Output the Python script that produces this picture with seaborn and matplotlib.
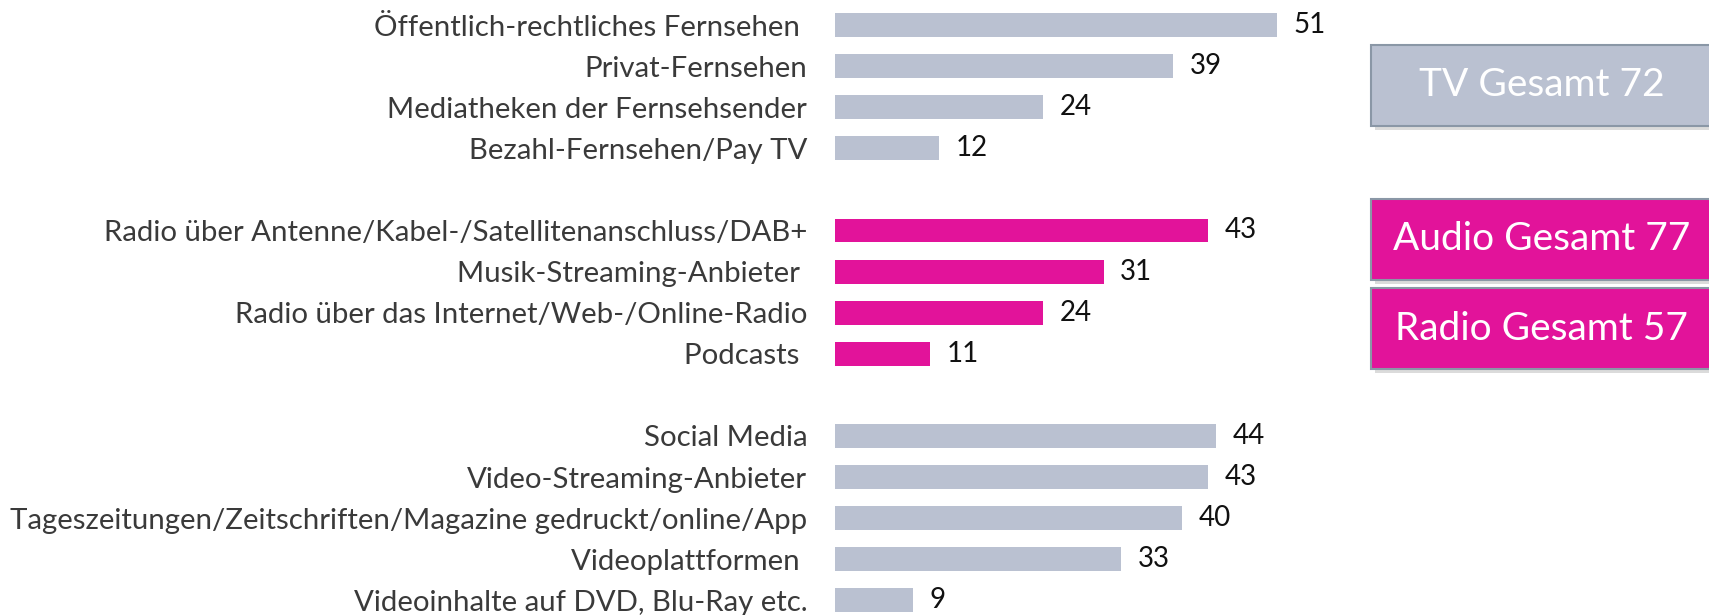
import pandas as pd
import matplotlib.pyplot as plt
import seaborn as sns
from matplotlib.patches import Rectangle

# Werte aus der Vorlage (in %)
tv_labels = ['Öffentlich-rechtliches Fernsehen ', 'Privat-Fernsehen',
             'Mediatheken der Fernsehsender', 'Bezahl-Fernsehen/Pay TV']
tv_values = [51, 39, 24, 12]

audio_labels = ['Radio über Antenne/Kabel-/Satellitenanschluss/DAB+', 'Musik-Streaming-Anbieter ',
                'Radio über das Internet/Web-/Online-Radio', 'Podcasts ']
audio_values = [43, 31, 24, 11]

other_labels = ['Social Media', 'Video-Streaming-Anbieter',
                'Tageszeitungen/Zeitschriften/Magazine gedruckt/online/App',
                'Videoplattformen ', 'Videoinhalte auf DVD, Blu-Ray etc.']
other_values = [44, 43, 40, 33, 9]

summary_labels = ['TV Gesamt 72', 'Audio Gesamt 77', 'Radio Gesamt 57']

grey = '#BAC1D1'
pink = '#E2139A'

# Zeilen mit je einer Leerzeile zwischen den Gruppen
rows = []
pos = 0
for grp, labels, values in [('tv', tv_labels, tv_values),
                            ('audio', audio_labels, audio_values),
                            ('other', other_labels, other_values)]:
    for lab, val in zip(labels, values):
        rows.append({'pos': pos, 'label': lab, 'value': val, 'group': grp})
        pos += 1
    pos += 1
df = pd.DataFrame(rows)

W, H = 1709, 615
fig = plt.figure(figsize=(W / 100, H / 100), dpi=100)
font = ['Lato', 'DejaVu Sans']
plt.rcParams['font.family'] = font

ax_left = 835
ax = fig.add_axes([ax_left / W, 0, (W - ax_left) / W, 1])
sns.barplot(data=df, x='value', y='pos', hue='group', orient='y', native_scale=True,
            palette={'tv': grey, 'audio': pink, 'other': grey},
            width=0.58, legend=False, ax=ax, saturation=1)

px_per_unit = 8.67
ax.set_xlim(0, (W - ax_left) / px_per_unit)
row_h = 41.1
ax.set_ylim((H - 25) / row_h, -25 / row_h)

ax.set_yticks(df['pos'])
ax.set_yticklabels(df['label'], fontsize=21.2, color='#3A3A3A')
ax.tick_params(axis='y', length=0, pad=20)
ax.set_xticks([])
ax.set_xlabel('')
ax.set_ylabel('')
for s in ax.spines.values():
    s.set_visible(False)

for _, r in df.iterrows():
    ax.text(r['value'] + 1.9, r['pos'], str(r['value']), va='center', ha='left',
            fontsize=20, color='#111111')

# Gesamt-Kästen rechts
boxes = [(45, 126, grey, summary_labels[0]),
         (199, 280, pink, summary_labels[1]),
         (288, 369, pink, summary_labels[2])]
bx0, bx1 = 1371, 1712
for top, bot, col, txt in boxes:
    shadow = Rectangle(((bx0 + 4) / W, 1 - (bot + 4) / H), (bx1 - bx0) / W, (bot - top) / H,
                       transform=fig.transFigure, facecolor='#999999', alpha=0.35,
                       edgecolor='none', zorder=1)
    rect = Rectangle((bx0 / W, 1 - bot / H), (bx1 - bx0) / W, (bot - top) / H,
                     transform=fig.transFigure, facecolor=col, edgecolor='#8A97A6',
                     linewidth=1.5, zorder=2)
    fig.patches.extend([shadow, rect])
    fig.text((bx0 + bx1) / 2 / W, 1 - (top + bot) / 2 / H, txt, ha='center', va='center',
             fontsize=28, color='white', zorder=3)

fig.savefig('out.png', dpi=100)
